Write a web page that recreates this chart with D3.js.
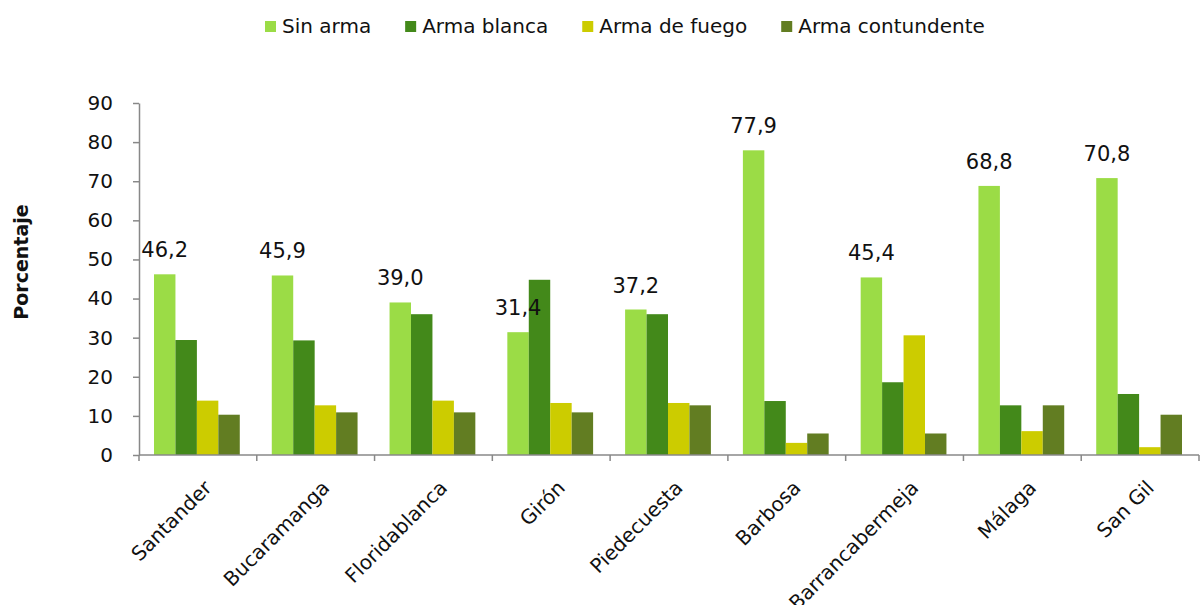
<!DOCTYPE html>
<html>
<head>
<meta charset="utf-8">
<script src="https://cdn.jsdelivr.net/npm/d3@7"></script>
<style>
  body { margin: 0; background: #fff; }
  svg { display: block; }
  text { font-family: "DejaVu Sans", sans-serif; fill: #111; }
</style>
</head>
<body>
<svg id="chart" width="1202" height="605"></svg>
<script>
// Municipios
const categories = ["Santander", "Bucaramanga", "Floridablanca", "Girón", "Piedecuesta",
                    "Barbosa", "Barrancabermeja", "Málaga", "San Gil"];
// Tipo de arma
const seriesNames = ["Sin arma", "Arma blanca", "Arma de fuego", "Arma contundente"];
const sinArma        = [46.2, 45.9, 39.0, 31.4, 37.2, 77.9, 45.4, 68.8, 70.8];
const armaBlanca     = [29.4, 29.3, 36.0, 44.8, 36.0, 13.8, 18.6, 12.7, 15.6];
const armaFuego      = [13.9, 12.7, 13.9, 13.3, 13.3, 3.1, 30.6, 6.1, 2.0];
const armaContundente= [10.3, 10.9, 10.9, 10.9, 12.7, 5.5, 5.5, 12.7, 10.3];
const yTicks = [0, 10, 20, 30, 40, 50, 60, 70, 80, 90];
const colors = ["#9bdc46", "#43891a", "#cccc00", "#627d22"];

const seriesValues = [sinArma, armaBlanca, armaFuego, armaContundente];
const fmt = v => v.toFixed(1).replace(".", ",");

const svg = d3.select("#chart");
const plotLeft = 139, plotRight = 1199, plotTop = 103, plotBottom = 455;

const x = d3.scaleBand().domain(categories).range([plotLeft, plotRight]).padding(0);
const xs = d3.scaleBand().domain(seriesNames)
  .range([15, x.bandwidth() - 17]).padding(0);
const y = d3.scaleLinear().domain([0, 90]).range([plotBottom, plotTop]);

// Y axis
const yAxis = svg.append("g")
  .attr("transform", `translate(${plotLeft},0)`)
  .call(d3.axisLeft(y).tickValues(yTicks).tickSize(6).tickSizeOuter(0).tickPadding(20));
yAxis.select(".domain").attr("stroke", "#888").attr("stroke-width", 1.5);
yAxis.selectAll(".tick line").attr("stroke", "#888").attr("stroke-width", 1.5);
yAxis.selectAll(".tick text").attr("font-size", 20).attr("font-family", "DejaVu Sans").attr("fill", "#111");

// Bars
const groups = svg.append("g").selectAll("g")
  .data(categories)
  .join("g")
  .attr("transform", d => `translate(${x(d)},0)`);

groups.selectAll("rect")
  .data((c, i) => seriesNames.map((s, k) => ({ s, k, v: seriesValues[k][i] })))
  .join("rect")
  .attr("x", d => xs(d.s))
  .attr("width", xs.bandwidth())
  .attr("y", d => y(d.v))
  .attr("height", d => y(0) - y(d.v))
  .attr("fill", d => colors[d.k]);

// Value labels on "Sin arma"
svg.append("g").selectAll("text")
  .data(categories)
  .join("text")
  .attr("x", (c) => x(c) + xs(seriesNames[0]) + xs.bandwidth() / 2)
  .attr("y", (c, i) => y(sinArma[i]) - 17)
  .attr("text-anchor", "middle")
  .attr("font-size", 21)
  .text((c, i) => fmt(sinArma[i]));

// X axis
const xAxis = svg.append("g")
  .attr("transform", `translate(0,${plotBottom})`);
xAxis.append("line")
  .attr("x1", plotLeft).attr("x2", plotRight)
  .attr("stroke", "#888").attr("stroke-width", 1.5);
const boundaries = categories.map(c => x(c)).concat([plotRight]);
xAxis.selectAll("line.tick")
  .data(boundaries)
  .join("line")
  .attr("class", "tick")
  .attr("x1", d => d).attr("x2", d => d)
  .attr("y1", 0).attr("y2", 6)
  .attr("stroke", "#888").attr("stroke-width", 1.5);

xAxis.selectAll("text")
  .data(categories)
  .join("text")
  .attr("transform", c => `translate(${x(c) + x.bandwidth() / 2 + 5},${24}) rotate(-45)`)
  .attr("text-anchor", "end")
  .attr("dy", "0.71em")
  .attr("font-size", 20)
  .text(c => c);

// Y axis title
svg.append("text")
  .attr("transform", "translate(28,262) rotate(-90)")
  .attr("text-anchor", "middle")
  .attr("font-size", 19)
  .attr("font-weight", "bold")
  .text("Porcentaje");

// Legend
const legend = svg.append("g");
let lx = 265;
seriesNames.forEach((name, k) => {
  legend.append("rect")
    .attr("x", lx).attr("y", 21)
    .attr("width", 11).attr("height", 11)
    .attr("fill", colors[k]);
  const t = legend.append("text")
    .attr("x", lx + 17).attr("y", 33)
    .attr("font-size", 20)
    .text(name);
  lx += 17 + t.node().getComputedTextLength() + 34;
});
</script>
</body>
</html>
